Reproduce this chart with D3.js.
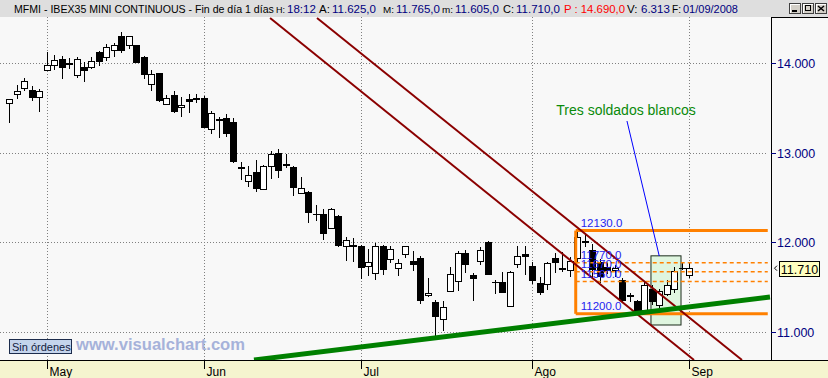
<!DOCTYPE html>
<html><head><meta charset="utf-8">
<script src="https://cdn.jsdelivr.net/npm/d3@7"></script>
<style>html,body{margin:0;padding:0;background:#f8f8f8;overflow:hidden}text{font-family:"Liberation Sans",Arial,sans-serif}</style>
</head><body><svg id="c" width="828" height="378"></svg>
<script>
// ---------- DATA ----------
const opens  = [13548,13653,13720,13698,13620,13922,13970,14037,13998,13866,13955,13955,14123,14067,14145,14305,14197,14201,14067,13765,13888,13541,13642,13508,13590,13605,13612,13262,13370,13385,13340,12832,12680,12784,12591,12848,12997,12868,12840,12541,12560,12315,12311,12150,12292,11953,11960,11956,11729,11651,11953,11808,11702,11859,11789,11819,11400,11327,11136,11450,11561,11875,11628,11785,12001,11552,11554,11282,11752,11867,11733,11542,11531,11819,11702,11680,11814,12005,11912,11770,11720,11680,11576,11400,11333,11240,11472,11296,11419,11472,11710,11625];
const highs  = [13600,13754,13836,13743,13709,14130,14089,14085,14056,14067,14015,14067,14138,14216,14224,14350,14305,14210,14082,13925,13895,13642,13687,13623,13657,13657,13638,13469,13396,13433,13385,12896,12848,12918,12862,13019,13041,12985,12851,12728,12570,12415,12370,12381,12300,12057,12042,11965,11923,11990,11967,11953,11808,11960,11901,11844,11595,11352,11341,11721,11897,11912,11651,11942,12010,11576,11662,11677,11956,11956,11774,11606,11777,11875,11893,11830,12130,12098,11975,11808,11770,11744,11602,11434,11352,11554,11520,11472,11576,11725,11765,11765];
const lows   = [13336,13604,13694,13575,13459,13915,13925,13828,13940,13832,13794,13940,13966,14029,14074,14112,14157,14000,13828,13685,13570,13530,13447,13403,13441,13553,13275,13215,13170,13179,12888,12698,12620,12564,12585,12709,12717,12825,12519,12535,12217,12236,12027,12145,11945,11789,11781,11590,11621,11579,11632,11763,11621,11825,11677,11315,11389,10924,11009,11445,11456,11658,11344,11747,11630,11423,11427,11280,11714,11632,11531,11405,11467,11651,11665,11613,11780,11949,11606,11539,11640,11606,11333,11333,11184,11225,11300,11233,11400,11438,11690,11605];
const closes = [13597,13687,13799,13620,13687,13978,14034,13955,13990,14045,13922,14022,14022,14179,14194,14141,14302,14007,13872,13877,13582,13608,13459,13530,13578,13598,13280,13444,13362,13212,12899,12826,12743,12602,12851,12982,12799,12862,12616,12602,12329,12308,12094,12370,11967,12020,11952,11714,11777,11953,11691,11919,11763,11953,11747,11349,11427,11165,11271,11640,11875,11752,11591,11908,11635,11548,11434,11662,11844,11837,11568,11434,11763,11770,11696,11789,12049,11998,11696,11621,11680,11707,11352,11394,11221,11512,11333,11446,11520,11677,11705,11710];
const monthLabels = ["May","Jun","Jul","Ago","Sep"];
const monthIndex  = [5,26,47,70,91];
const priceTicks  = [11000,12000,13000,14000];
const priceTickLabels = ["11.000","12.000","13.000","14.000"];
// drawn studies (bar index, price)
const greenTrend = [[32.75,10684],[101.8,11388]];
const redChannelA = [[34.9,14506],[91.63,10684]];
const redChannelB = [[41.18,14506],[98.05,10684]];
const boxIdx = [75.8,101.5];
const boxLevels = [12130,11200];
const dashLevels = [11770,11670,11560];
const levelLabels = ["12130.0","11770.0","11670.0","11560.0","11200.0"];
const levelValues = [12130,11770,11670,11560,11200];
const patternBox = {i0:85.87,i1:89.89,top:11848,bottom:11075};
const noteText = "Tres soldados blancos";
const notePoint = [73.2,13422];
const noteLine = [[82.66,13355],[86.98,11846]];
const headerSegs = [
 ["MFMI - IBEX35 MINI CONTINUOUS - Fin de día 1 días","#000",14],
 ["H:","#000",276],["18:12","#000080",287],
 ["A:","#000",319],["11.625,0","#000080",332],
 ["M:","#000",383],["11.765,0","#000080",396],
 ["m:","#000",442],["11.605,0","#000080",455],
 ["C:","#000",503],["11.710,0","#000080",516],
 ["P : 14.690,0","#ff0000",564],
 ["V:","#000",627],["6.313","#000080",641],
 ["F:","#000",672],["01/09/2008","#000080",683]
];
const lastPriceLabel = "11.710";

// ---------- LAYOUT ----------
const W=828,H=378, plotTop=17, plotBottom=360, axisX=771;
const svg=d3.select("#c");
const x=d3.scaleLinear().domain([0,91]).range([9.3,689.3]);
const y=d3.scaleLinear().domain([11000,14000]).range([331.7,63.3]);

svg.append("rect").attr("x",0).attr("y",0).attr("width",W).attr("height",plotTop).attr("fill","#dedede");
svg.append("rect").attr("x",0).attr("y",plotTop).attr("width",W).attr("height",plotBottom-plotTop).attr("fill","#f8f8f8");
svg.append("rect").attr("x",0).attr("y",plotBottom).attr("width",W).attr("height",H-plotBottom).attr("fill","#f5f5cf");

svg.append("defs").append("clipPath").attr("id","clip").append("rect")
  .attr("x",0).attr("y",plotTop).attr("width",axisX).attr("height",plotBottom-plotTop);

// gridlines
const grid=svg.append("g").attr("stroke","#808080").attr("stroke-dasharray","1,2").attr("shape-rendering","crispEdges");
priceTicks.forEach(v=>grid.append("line").attr("x1",0).attr("x2",axisX-4).attr("y1",Math.round(y(v))+0.5).attr("y2",Math.round(y(v))+0.5));
monthIndex.forEach(i=>grid.append("line").attr("x1",Math.round(x(i))+0.5).attr("x2",Math.round(x(i))+0.5).attr("y1",plotTop).attr("y2",plotBottom));

// pattern box
svg.append("rect").attr("x",x(patternBox.i0)).attr("y",y(patternBox.top))
  .attr("width",x(patternBox.i1)-x(patternBox.i0)).attr("height",y(patternBox.bottom)-y(patternBox.top))
  .attr("fill","#dff5df").attr("stroke","#1a2a1a").attr("stroke-width",1);

// candles
const cg=svg.append("g").attr("shape-rendering","crispEdges");
opens.forEach((o,i)=>{
  const c=closes[i], cx=Math.round(x(i))+0.5;
  cg.append("line").attr("x1",cx).attr("x2",cx).attr("y1",y(highs[i])).attr("y2",y(lows[i])).attr("stroke","#000");
  const top=y(Math.max(o,c)), bot=y(Math.min(o,c));
  cg.append("rect").attr("x",cx-3).attr("y",top).attr("width",6).attr("height",Math.max(bot-top,0.5))
    .attr("fill",c>=o?"#fff":"#000").attr("stroke","#000").attr("stroke-width",1);
});

// orange box and levels
const og=svg.append("g");
boxLevels.forEach(v=>og.append("line").attr("x1",x(boxIdx[0])).attr("x2",x(boxIdx[1])).attr("y1",y(v)).attr("y2",y(v)).attr("stroke","#ff8000").attr("stroke-width",3));
og.append("line").attr("x1",x(boxIdx[0])).attr("x2",x(boxIdx[0])).attr("y1",y(boxLevels[0])).attr("y2",y(boxLevels[1])).attr("stroke","#ff8000").attr("stroke-width",3);
dashLevels.forEach(v=>og.append("line").attr("x1",x(boxIdx[0])).attr("x2",x(boxIdx[1])).attr("y1",y(v)).attr("y2",y(v)).attr("stroke","#ff8000").attr("stroke-width",1.5).attr("stroke-dasharray","4,3"));

// trend lines
const line=d3.line().x(d=>x(d[0])).y(d=>y(d[1]));
const tg=svg.append("g").attr("clip-path","url(#clip)").attr("fill","none");
[redChannelA,redChannelB].forEach(d=>tg.append("path").attr("d",line(d)).attr("stroke","#8b0000").attr("stroke-width",2));
tg.append("path").attr("d",line(greenTrend)).attr("stroke","#008000").attr("stroke-width",5);

// level labels
levelLabels.forEach((t,k)=>svg.append("text").attr("x",x(boxIdx[0])+5).attr("y",y(levelValues[k])-3.5)
  .attr("font-size",11.5).attr("fill","#2424f0").text(t));

// annotation
svg.append("text").attr("x",x(notePoint[0])).attr("y",y(notePoint[1])).attr("font-size",14).attr("fill","#0a8a0a").text(noteText);
svg.append("path").attr("d",line(noteLine)).attr("stroke","#0000ff").attr("stroke-width",1).attr("fill","none");

// right axis
svg.append("line").attr("x1",axisX+0.5).attr("x2",axisX+0.5).attr("y1",plotTop).attr("y2",plotBottom).attr("stroke","#000");
svg.append("line").attr("x1",axisX).attr("x2",W).attr("y1",plotTop+0.5).attr("y2",plotTop+0.5).attr("stroke","#000");
priceTicks.forEach((v,k)=>{
  const yy=Math.round(y(v))+0.5;
  svg.append("line").attr("x1",axisX).attr("x2",axisX+5).attr("y1",yy).attr("y2",yy).attr("stroke","#000080");
  svg.append("text").attr("x",axisX+6).attr("y",yy+4.5).attr("font-size",12.5).attr("fill","#000080").text(priceTickLabels[k]);
});
// bottom axis
svg.append("line").attr("x1",0).attr("x2",W).attr("y1",plotBottom+0.5).attr("y2",plotBottom+0.5).attr("stroke","#000");
monthIndex.forEach((i,k)=>{
  const xx=Math.round(x(i))+0.5;
  svg.append("line").attr("x1",xx).attr("x2",xx).attr("y1",plotBottom).attr("y2",plotBottom+9).attr("stroke","#000");
  svg.append("text").attr("x",xx+2).attr("y",376).attr("font-size",12).attr("fill","#000").text(monthLabels[k]);
});

// last price box
const ly=y(closes[closes.length-1]);
svg.append("path").attr("d",`M777,${ly-2.5} L774.5,${ly} L777,${ly+2.5}`).attr("stroke","#000").attr("fill","none");
svg.append("rect").attr("x",779.5).attr("y",Math.round(ly-7.5)+0.5).attr("width",40).attr("height",15).attr("fill","#ffffc0").attr("stroke","#000");
svg.append("text").attr("x",799.5).attr("y",Math.round(ly-7.5)+12.5).attr("text-anchor","middle").attr("font-size",12.5).attr("fill","#000").text(lastPriceLabel);

// footer badges
svg.append("rect").attr("x",9.5).attr("y",339.5).attr("width",62).attr("height",14).attr("fill","#c4d4ec").attr("stroke","#1c2c4c");
svg.append("text").attr("x",12).attr("y",351).attr("font-size",11).attr("fill","#102040").text("Sin órdenes");
svg.append("text").attr("x",76).attr("y",350).attr("font-size",16).attr("font-weight","bold").attr("fill","#a6b2da")
  .attr("textLength",169).attr("lengthAdjust","spacingAndGlyphs").text("www.visualchart.com");

// header: shrink a segment's font when it would run into the next one
headerSegs.forEach((s,k)=>{
  const fs=11.5;
  const t=svg.append("text").attr("x",s[2]).attr("y",13).attr("font-size",fs).attr("fill",s[1]).text(s[0]);
  const next = k<headerSegs.length-1 ? headerSegs[k+1][2] : 740;
  const avail = next - s[2] - 2;
  const w = t.node().getComputedTextLength();
  if(w>avail) t.attr("font-size",(fs*avail/w).toFixed(2));
});
// window buttons
[789,802,815].forEach((bx,k)=>{
  const g=svg.append("g").attr("shape-rendering","crispEdges");
  g.append("rect").attr("x",bx+0.5).attr("y",3.5).attr("width",11).attr("height",10).attr("fill","#d4d0c8").attr("stroke","#404040");
  g.append("path").attr("d",`M${bx+1.5},12.5 V4.5 H${bx+10.5}`).attr("stroke","#fff").attr("fill","none");
  if(k===0) g.append("rect").attr("x",bx+3).attr("y",10).attr("width",5).attr("height",2).attr("fill","#000");
  if(k===1) g.append("rect").attr("x",bx+3.5).attr("y",5.5).attr("width",5).attr("height",5).attr("fill","none").attr("stroke","#000");
  if(k===2) g.append("path").attr("d",`M${bx+3},6 L${bx+9},11 M${bx+9},6 L${bx+3},11`).attr("stroke","#000").attr("stroke-width",1.5).attr("shape-rendering","auto");
});
</script></body></html>
